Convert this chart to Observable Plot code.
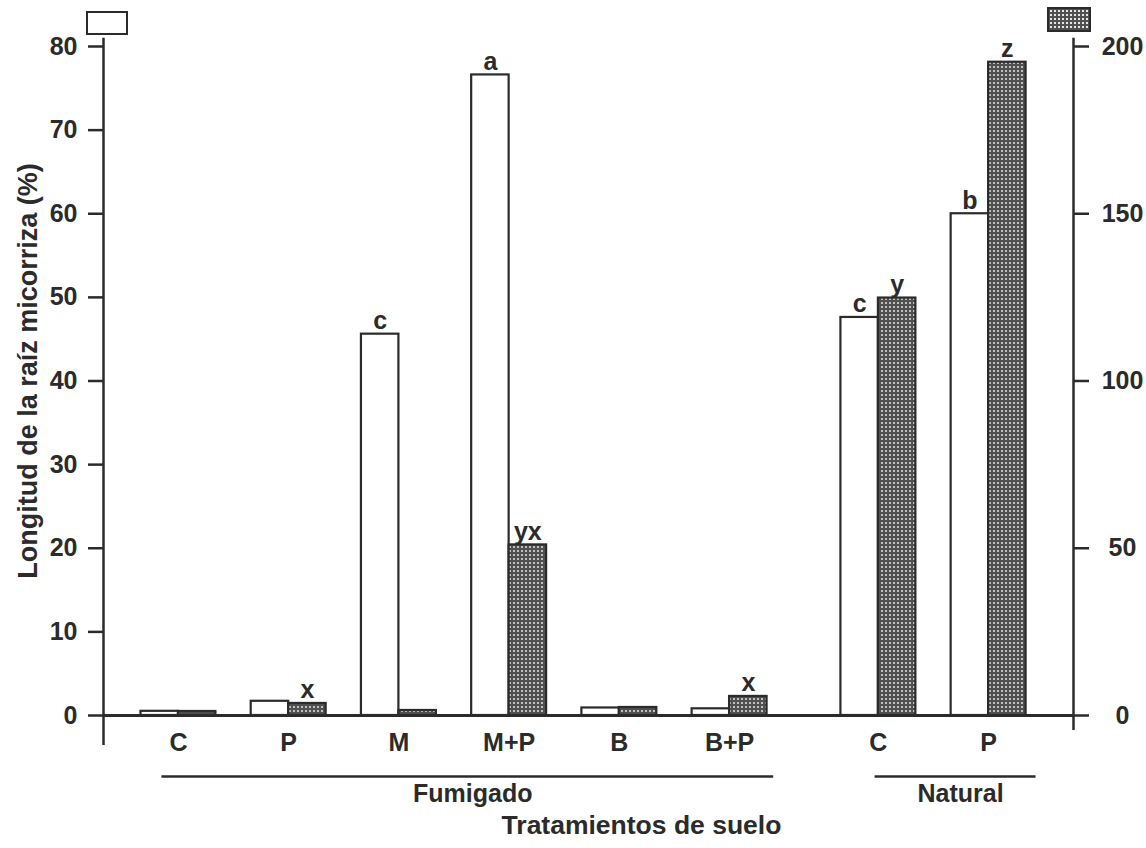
<!DOCTYPE html>
<html>
<head>
<meta charset="utf-8">
<script src="https://cdn.jsdelivr.net/npm/d3@7"></script>
<script src="https://cdn.jsdelivr.net/npm/@observablehq/plot@0.6"></script>
<style>
  html, body { margin: 0; padding: 0; background: #fff; }
  #wrap { width: 1146px; font-family: "Liberation Sans", Arial, sans-serif; color: #2b2b2b; }
  #legend { position: relative; width: 1146px; height: 37px; }
  .sw { position: absolute; box-sizing: border-box; border: 2px solid #2b2b2b; }
  #swWhite { left: 86px; top: 11px; width: 42px; height: 24px; background: #fff; }
  #swDots { left: 1047px; top: 7px; width: 44px; height: 25px;
    background-color: #505050;
    background-image: radial-gradient(circle, #e6e6e6 0.9px, transparent 1.2px);
    background-size: 4px 4px; }
</style>
</head>
<body>
<div id="wrap">
  <div id="legend"><div class="sw" id="swWhite"></div><div class="sw" id="swDots"></div></div>
  <div id="chart"></div>
</div>
<script>
// ---- data ----
const categories = ["C", "P", "M", "M+P", "B", "B+P", "C", "P"];
const groups = ["Fumigado", "Fumigado", "Fumigado", "Fumigado", "Fumigado", "Fumigado", "Natural", "Natural"];
const groupNames = ["Fumigado", "Natural"];
const rootLength = [0.5, 1.7, 45.6, 76.6, 0.9, 0.8, 47.6, 60.0];      // left axis (%)
const secondSeries = [1.2, 3.6, 1.5, 51, 2.4, 5.7, 124.8, 195.3];     // right axis
const rootLetters = ["", "", "c", "a", "", "", "c", "b"];
const secondLetters = ["", "x", "", "yx", "", "x", "y", "z"];
const leftTicks = [0, 10, 20, 30, 40, 50, 60, 70, 80];
const rightTicks = [0, 50, 100, 150, 200];
const yLabel = "Longitud de la raíz micorriza (%)";
const xTitle = "Tratamientos de suelo";

// ---- derived ----
const RATIO = 200 / 80;           // right axis units per left axis unit
const GAP = 0.35;                 // extra spacing between treatment groups
const BW = 0.34;                  // bar width in category units
const rows = categories.map((c, i) => ({
  cat: c,
  group: groups[i],
  pos: i + groupNames.indexOf(groups[i]) * GAP,
  left: rootLength[i],
  right: secondSeries[i] / RATIO,
  lLetter: rootLetters[i],
  rLetter: secondLetters[i]
}));
const groupRows = groupNames.map(g => {
  const r = rows.filter(d => d.group === g);
  const x1 = r[0].pos - (g === "Fumigado" ? 0.15 : 0.03);
  const x2 = r[r.length - 1].pos + (g === "Fumigado" ? 0.4 : 0.43);
  return {group: g, x1, x2, mid: (x1 + x2) / 2};
});

const ink = "#2b2b2b";
const chart = Plot.plot({
  width: 1146,
  height: 811,
  marginLeft: 103,
  marginRight: 73,
  marginTop: 9,
  marginBottom: 133,
  style: {fontFamily: "'Liberation Sans', Arial, sans-serif", fontWeight: "bold", color: ink, background: "#fff", overflow: "visible"},
  x: {domain: [-0.68, 8.12], axis: null},
  y: {domain: [0, 80], axis: null},
  marks: [
    // bars: white (left axis)
    Plot.rectY(rows, {x1: d => d.pos - BW, x2: d => d.pos, y: "left", fill: "#fff", stroke: ink, strokeWidth: 2.2}),
    // bars: dotted (right axis)
    Plot.rectY(rows, {x1: d => d.pos, x2: d => d.pos + BW, y: "right", fill: "url(#dots)", stroke: ink, strokeWidth: 2.2}),
    // letters
    Plot.text(rows.filter(d => d.lLetter), {x: d => d.pos - BW / 2, y: "left", text: "lLetter", lineAnchor: "bottom", dy: -5, fontSize: 25, fill: ink}),
    Plot.text(rows.filter(d => d.rLetter), {x: d => d.pos + BW / 2, y: "right", text: "rLetter", lineAnchor: "bottom", dy: -5, fontSize: 25, fill: ink}),
    // baseline
    Plot.ruleY([0], {stroke: ink, strokeWidth: 3}),
    // axis lines
    Plot.ruleX([-0.68], {y1: -3.6, y2: 81, stroke: ink, strokeWidth: 2.5}),
    Plot.ruleX([8.12], {y1: -1.8, y2: 81, stroke: ink, strokeWidth: 2.5}),
    // left axis
    Plot.axisY({anchor: "left", ticks: leftTicks, tickSize: 15, tickPadding: 11, strokeWidth: 2.5, fontSize: 25, label: null}),
    // right axis
    Plot.axisY({anchor: "right", ticks: rightTicks.map(v => v / RATIO), tickFormat: d => String(Math.round(d * RATIO)),
      tickSize: 15, tickPadding: 34, textAnchor: "middle", strokeWidth: 2.5, fontSize: 25, label: null}),
    // category labels
    Plot.text(rows, {x: "pos", text: "cat", frameAnchor: "bottom", dy: 35, fontSize: 25, fill: ink}),
    // group underlines and names
    Plot.ruleY(groupRows, {x1: "x1", x2: "x2", y: 0, dy: 61, stroke: ink, strokeWidth: 2.5}),
    Plot.text(groupRows, {x: "mid", text: "group", frameAnchor: "bottom", dy: 86, dx: 5, fontSize: 25, fill: ink}),
    // axis titles
    Plot.text([xTitle], {frameAnchor: "bottom", dy: 118, dx: 53, fontSize: 26.5, fill: ink}),
    Plot.text([yLabel], {frameAnchor: "left", textAnchor: "middle", rotate: -90, dx: -75, dy: -10, fontSize: 27, fill: ink})
  ]
});

// dotted fill pattern
d3.select(chart).insert("defs", ":first-child").html(
  '<pattern id="dots" patternUnits="userSpaceOnUse" width="4" height="4">' +
  '<rect width="4" height="4" fill="#505050"></rect>' +
  '<circle cx="2" cy="2" r="1" fill="#e6e6e6"></circle></pattern>'
);
document.getElementById("chart").appendChild(chart);
</script>
</body>
</html>
